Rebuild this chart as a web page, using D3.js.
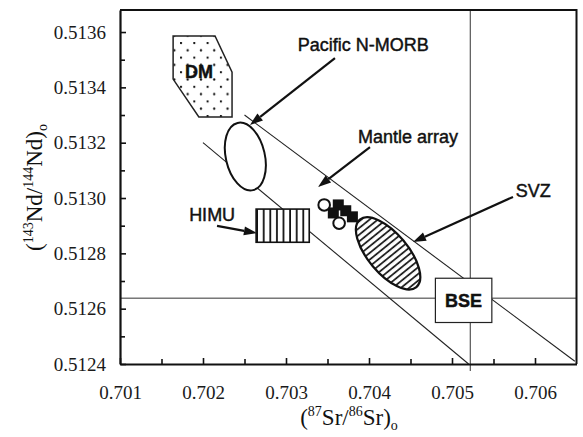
<!DOCTYPE html>
<html>
<head>
<meta charset="utf-8">
<script src="https://cdn.jsdelivr.net/npm/d3@7"></script>
<style>
  body { margin: 0; background: #fff; }
  .tick text { font-family: "Liberation Serif", "Times New Roman", serif; font-size: 19px; fill: #1a1a1a; }
  .note { font-family: "Liberation Sans", Arial, sans-serif; font-size: 18px; fill: #111; stroke: #111; stroke-width: 0.45px; }
</style>
</head>
<body>
<div id="chart"></div>
<script>
// 坐标轴刻度
var xTicks = [0.701, 0.702, 0.703, 0.704, 0.705, 0.706];
var xMinorTicks = [0.7015, 0.7025, 0.7035, 0.7045, 0.7055];
var yTicks = [0.5124, 0.5126, 0.5128, 0.5130, 0.5132, 0.5134, 0.5136];
var yMinorTicks = [0.5125, 0.5127, 0.5129, 0.5131, 0.5133, 0.5135];

// BSE 参考线
var bseSr = 0.70522;
var bseNd = 0.512638;

// 各端元区域 (Sr, Nd)
var dmPolygon = [[0.70164, 0.513586], [0.702145, 0.513586], [0.70235, 0.513455],
                 [0.70235, 0.513293], [0.70195, 0.513293], [0.70164, 0.51343]];
var mantleUpper = [[0.7025, 0.5133], [0.70648, 0.51241]];
var mantleLower = [[0.702, 0.5132], [0.7052, 0.5124]];
var bseBox = [[0.7048, 0.51255], [0.70548, 0.51271]];
var himuBox = [[0.70264, 0.51284], [0.70328, 0.51296]];
var nmorbCentre = [0.70251, 0.51315];
var svzCentre = [0.70423, 0.5128];

// 样品点
var samplesOpen = [[0.70346, 0.512975], [0.70364, 0.512909]];
var samplesFilled = [[0.70363, 0.512975], [0.70372, 0.512954], [0.70357, 0.512946], [0.70380, 0.512932]];

// 标注文字和箭头 [起点, 终点]
var labels = [
  { text: "Pacific N-MORB", pos: [0.70393, 0.51353] },
  { text: "Mantle array", pos: [0.70447, 0.5132] },
  { text: "SVZ", pos: [0.70598, 0.513004] },
  { text: "HIMU", pos: [0.70211, 0.512917] }
];
var arrows = [
  [[0.70359, 0.513506], [0.702566, 0.513264]],
  [[0.704012, 0.513184], [0.703386, 0.51304]],
  [[0.705735, 0.513004], [0.70453, 0.512841]],
  [[0.702169, 0.512899], [0.70265, 0.512873]]
];

var W = 583, H = 437;

var svg = d3.select("#chart").append("svg")
  .attr("width", W).attr("height", H);

var x = d3.scaleLinear().domain([0.701, 0.7065]).range([120, 576.5]);
var y = d3.scaleLinear().domain([0.5124, 0.51368]).range([364, 9.9]);

var defs = svg.append("defs");

// DM 点状填充
var dots = defs.append("pattern").attr("id", "dots")
  .attr("patternUnits", "userSpaceOnUse")
  .attr("x", 180).attr("y", 42)
  .attr("width", 13.3).attr("height", 14.6);
dots.append("circle").attr("cx", 1).attr("cy", 1).attr("r", 1.15).attr("fill", "#111");
dots.append("circle").attr("cx", 7.65).attr("cy", 8.3).attr("r", 1.15).attr("fill", "#111");

// SVZ 斜线填充 (椭圆本身旋转了 50 度)
var hatch = defs.append("pattern").attr("id", "hatch")
  .attr("patternUnits", "userSpaceOnUse")
  .attr("width", 5.2).attr("height", 10)
  .attr("patternTransform", "rotate(1)");
hatch.append("line").attr("x1", 1).attr("y1", -1).attr("x2", 1).attr("y2", 11)
  .attr("stroke", "#111").attr("stroke-width", 1.7);

// HIMU 竖线填充
var stripes = defs.append("pattern").attr("id", "stripes")
  .attr("patternUnits", "userSpaceOnUse")
  .attr("x", x(himuBox[0][0])).attr("y", 0)
  .attr("width", 6.6).attr("height", 10);
stripes.append("line").attr("x1", 1).attr("y1", 0).attr("x2", 1).attr("y2", 10)
  .attr("stroke", "#111").attr("stroke-width", 1.8);

// 参考线
svg.append("line")
  .attr("x1", x(0.701)).attr("x2", x(0.7065))
  .attr("y1", y(bseNd)).attr("y2", y(bseNd))
  .attr("stroke", "#333").attr("stroke-width", 1);
svg.append("line")
  .attr("x1", x(bseSr)).attr("x2", x(bseSr))
  .attr("y1", y(0.51368)).attr("y2", y(0.5124) + 7)
  .attr("stroke", "#333").attr("stroke-width", 1);

// 地幔阵列
var line = d3.line().x(function (d) { return x(d[0]); }).y(function (d) { return y(d[1]); });
[mantleUpper, mantleLower].forEach(function (seg) {
  svg.append("path").attr("d", line(seg))
    .attr("fill", "none").attr("stroke", "#222").attr("stroke-width", 1.1);
});

// DM
svg.append("path").attr("d", line(dmPolygon) + "Z")
  .attr("fill", "url(#dots)").attr("stroke", "#222").attr("stroke-width", 1.5);
svg.append("text").attr("class", "note")
  .attr("x", x(0.701952)).attr("y", y(0.513434))
  .attr("text-anchor", "middle").style("font-weight", "bold")
  .text("DM");

// Pacific N-MORB 椭圆
svg.append("ellipse")
  .attr("cx", x(nmorbCentre[0])).attr("cy", y(nmorbCentre[1]))
  .attr("rx", 19.5).attr("ry", 34.5)
  .attr("transform", "rotate(-13," + x(nmorbCentre[0]) + "," + y(nmorbCentre[1]) + ")")
  .attr("fill", "#fff").attr("stroke", "#111").attr("stroke-width", 2);

// SVZ 椭圆
svg.append("ellipse")
  .attr("cx", x(svzCentre[0])).attr("cy", y(svzCentre[1]))
  .attr("rx", 44).attr("ry", 20)
  .attr("transform", "rotate(50," + x(svzCentre[0]) + "," + y(svzCentre[1]) + ")")
  .attr("fill", "url(#hatch)").attr("stroke", "#111").attr("stroke-width", 2.2);

// HIMU
svg.append("rect")
  .attr("x", x(himuBox[0][0])).attr("y", y(himuBox[1][1]))
  .attr("width", x(himuBox[1][0]) - x(himuBox[0][0]))
  .attr("height", y(himuBox[0][1]) - y(himuBox[1][1]))
  .attr("fill", "#fff");
svg.append("rect")
  .attr("x", x(himuBox[0][0])).attr("y", y(himuBox[1][1]))
  .attr("width", x(himuBox[1][0]) - x(himuBox[0][0]))
  .attr("height", y(himuBox[0][1]) - y(himuBox[1][1]))
  .attr("fill", "url(#stripes)").attr("stroke", "#111").attr("stroke-width", 1.6);

// BSE 方框
svg.append("rect")
  .attr("x", x(bseBox[0][0])).attr("y", y(bseBox[1][1]))
  .attr("width", x(bseBox[1][0]) - x(bseBox[0][0]))
  .attr("height", y(bseBox[0][1]) - y(bseBox[1][1]))
  .attr("fill", "#fff").attr("stroke", "#222").attr("stroke-width", 1.2);
svg.append("text").attr("class", "note")
  .attr("x", (x(bseBox[0][0]) + x(bseBox[1][0])) / 2)
  .attr("y", (y(bseBox[0][1]) + y(bseBox[1][1])) / 2 + 6.5)
  .attr("text-anchor", "middle").style("font-weight", "bold")
  .text("BSE");

// 样品点
svg.selectAll(".filled").data(samplesFilled).enter().append("rect")
  .attr("class", "filled")
  .attr("x", function (d) { return x(d[0]) - 5.5; })
  .attr("y", function (d) { return y(d[1]) - 5.5; })
  .attr("width", 11).attr("height", 11)
  .attr("fill", "#111");
svg.selectAll(".open").data(samplesOpen).enter().append("circle")
  .attr("class", "open")
  .attr("cx", function (d) { return x(d[0]); })
  .attr("cy", function (d) { return y(d[1]); })
  .attr("r", 5.8)
  .attr("fill", "#fff").attr("stroke", "#111").attr("stroke-width", 2);

// 箭头
arrows.forEach(function (a) {
  var x1 = x(a[0][0]), y1 = y(a[0][1]), x2 = x(a[1][0]), y2 = y(a[1][1]);
  var ang = Math.atan2(y2 - y1, x2 - x1);
  var L = 13, hw = 4.5;
  var bx = x2 - L * Math.cos(ang), by = y2 - L * Math.sin(ang);
  svg.append("line")
    .attr("x1", x1).attr("y1", y1).attr("x2", bx).attr("y2", by)
    .attr("stroke", "#111").attr("stroke-width", 2.2);
  svg.append("path")
    .attr("d", "M" + x2 + "," + y2 +
      "L" + (bx + hw * Math.sin(ang)) + "," + (by - hw * Math.cos(ang)) +
      "L" + (bx - hw * Math.sin(ang)) + "," + (by + hw * Math.cos(ang)) + "Z")
    .attr("fill", "#111");
});

// 标注文字
svg.selectAll(".lbl").data(labels).enter().append("text")
  .attr("class", "note lbl")
  .attr("x", function (d) { return x(d.pos[0]); })
  .attr("y", function (d) { return y(d.pos[1]); })
  .attr("text-anchor", "middle")
  .text(function (d) { return d.text; });

// 坐标轴
svg.append("g").attr("transform", "translate(0," + y(0.5124) + ")")
  .call(d3.axisBottom(x).tickValues(xTicks).tickFormat(d3.format(".3f"))
    .tickSizeInner(-6).tickSizeOuter(0).tickPadding(22));
svg.append("g").attr("transform", "translate(0," + y(0.5124) + ")")
  .call(d3.axisBottom(x).tickValues(xMinorTicks).tickFormat("")
    .tickSizeInner(-5).tickSizeOuter(0))
  .select(".domain").remove();
svg.append("g").attr("transform", "translate(" + x(0.701) + ",0)")
  .call(d3.axisLeft(y).tickValues(yTicks).tickFormat(d3.format(".4f"))
    .tickSizeInner(-6).tickSizeOuter(0).tickPadding(14));
svg.append("g").attr("transform", "translate(" + x(0.701) + ",0)")
  .call(d3.axisLeft(y).tickValues(yMinorTicks).tickFormat("")
    .tickSizeInner(-5).tickSizeOuter(0))
  .select(".domain").remove();
svg.selectAll(".domain").attr("stroke", "#111").attr("stroke-width", 2.2);
svg.selectAll(".tick line").attr("stroke", "#111").attr("stroke-width", 1.6);

// 图框上边和右边
svg.append("path")
  .attr("d", "M" + x(0.701) + "," + y(0.51368) + "H" + x(0.7065) + "V" + y(0.5124))
  .attr("fill", "none").attr("stroke", "#111").attr("stroke-width", 2);

// 轴标题
var serif = '"Liberation Serif", "Times New Roman", serif';
var xt = svg.append("text")
  .attr("x", 349).attr("y", 425)
  .attr("text-anchor", "middle")
  .style("font-family", serif).style("font-size", "23px").style("fill", "#111");
xt.append("tspan").text("(");
xt.append("tspan").attr("dy", -9).style("font-size", "14px").text("87");
xt.append("tspan").attr("dy", 9).text("Sr/");
xt.append("tspan").attr("dy", -9).style("font-size", "14px").text("86");
xt.append("tspan").attr("dy", 9).text("Sr)");
xt.append("tspan").attr("dy", 5).style("font-size", "14px").text("o");

var yt = svg.append("text")
  .attr("transform", "translate(42,187.5) rotate(-90)")
  .attr("text-anchor", "middle")
  .style("font-family", serif).style("font-size", "23px").style("fill", "#111");
yt.append("tspan").text("(");
yt.append("tspan").attr("dy", -9).style("font-size", "14px").text("143");
yt.append("tspan").attr("dy", 9).text("Nd/");
yt.append("tspan").attr("dy", -9).style("font-size", "14px").text("144");
yt.append("tspan").attr("dy", 9).text("Nd)");
yt.append("tspan").attr("dy", 5).style("font-size", "14px").text("o");
</script>
</body>
</html>
